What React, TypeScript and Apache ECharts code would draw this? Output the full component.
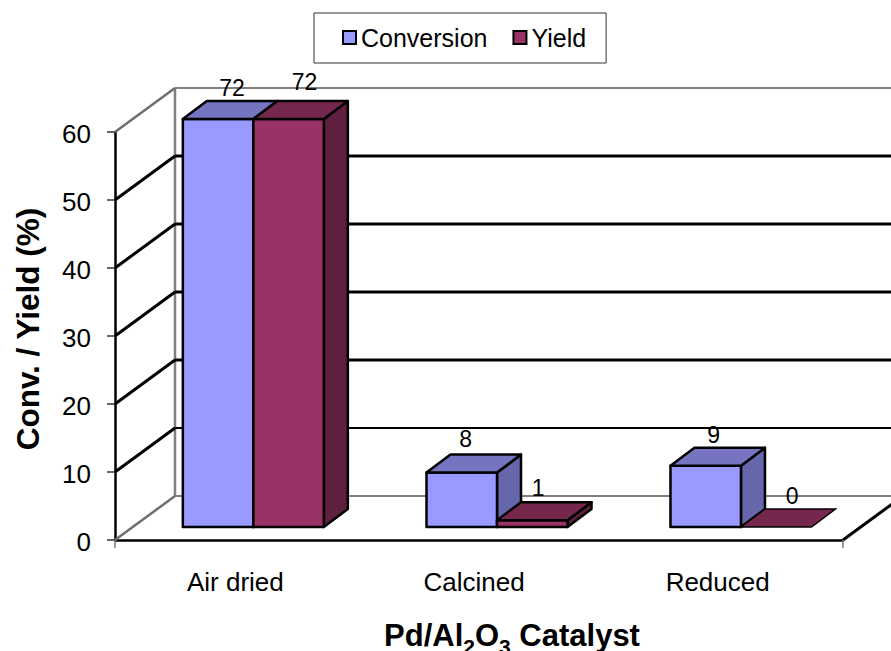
import React, { useEffect, useRef } from "react";
import * as echarts from "echarts";

const categories = ["Air dried", "Calcined", "Reduced"];
const conversion = [72, 8, 9];
const yieldValues = [72, 1, 0];
const yTicks = [0, 10, 20, 30, 40, 50, 60];

const FONT = '"Liberation Sans", Arial, sans-serif';
const Y_MAX = 60;
const WALL = { dx: 60, dy: -44 };
const BAR_SHIFT = { dx: [17, 18, 19.3], dy: -13 };
const BAR_DEPTH = { dx: 24, dy: -18 };
const BAR_W = 70.5;
const LABEL_OFFSET = {
  Conversion: [[14, -31], [4, -34], [8, -31]],
  Yield: [[16, -37], [6, -32], [16, -31]],
};
const LABEL_PAD = [2, 10, 8];

const palette = {
  Conversion: { front: "#9999FF", top: "#7474C0", side: "#6666AA" },
  Yield: { front: "#993366", top: "#75274E", side: "#5F1F3F" },
};

function wallItem(params: any, api: any) {
  const v = api.value(1);
  const band = api.size([1, 0])[0];
  const cx = api.coord([0, v]);
  const x0 = cx[0] - band / 2;
  const y = cx[1];
  const bx = x0 + WALL.dx;
  const by = y + WALL.dy;
  const isEdge = v === 0 || v === Y_MAX;
  const diag = isEdge ? { stroke: "#6e6e6e", lineWidth: 2.5 } : { stroke: "#000", lineWidth: 3 };
  const back =
    v === Y_MAX
      ? { stroke: "#808080", lineWidth: 2 }
      : v === 0
        ? { stroke: "#555", lineWidth: 1.5 }
        : v === 10
          ? { stroke: "#000", lineWidth: 2 }
          : { stroke: "#000", lineWidth: 3 };
  const children: any[] = [
    { type: "line", shape: { x1: bx, y1: by, x2: 1000, y2: by }, style: back },
    { type: "line", shape: { x1: x0, y1: y, x2: bx, y2: by }, style: diag },
  ];
  if (v === 0) {
    const xEnd = x0 + band * categories.length;
    const top = api.coord([0, Y_MAX])[1] + WALL.dy;
    children.push(
      { type: "line", shape: { x1: bx, y1: by, x2: bx, y2: top }, style: { stroke: "#808080", lineWidth: 2.5 } },
      { type: "line", shape: { x1: xEnd, y1: y, x2: xEnd + WALL.dx, y2: by }, style: { stroke: "#000", lineWidth: 3 } },
      { type: "line", shape: { x1: xEnd, y1: y, x2: xEnd, y2: y + 8 }, style: { stroke: "#777", lineWidth: 1.5 } },
      { type: "line", shape: { x1: x0, y1: y, x2: x0, y2: y + 8 }, style: { stroke: "#777", lineWidth: 1.5 } },
    );
  }
  return { type: "group", children };
}

function barRenderer(name: "Conversion" | "Yield", slot: number) {
  return (params: any, api: any) => {
    const i = api.value(0);
    const raw = api.value(1);
    const base = api.coord([i, 0]);
    const topPt = api.coord([i, Math.min(raw, Y_MAX)]);
    const xL = base[0] + BAR_SHIFT.dx[i] + (slot - 1) * BAR_W;
    const xR = xL + BAR_W;
    const yB = base[1] + BAR_SHIFT.dy;
    const yT = topPt[1] + BAR_SHIFT.dy;
    const { dx, dy } = BAR_DEPTH;
    const c = palette[name];
    const edge = { stroke: "#000", lineWidth: 2.5, lineJoin: "round" };
    const off = LABEL_OFFSET[name][i];
    const children: any[] = [];
    if (raw > 0) {
      children.push(
        {
          type: "polygon",
          shape: { points: [[xR, yB], [xR + dx, yB + dy], [xR + dx, yT + dy], [xR, yT]] },
          style: { fill: c.side, ...edge },
        },
        {
          type: "rect",
          shape: { x: xL, y: yT, width: BAR_W, height: yB - yT },
          style: { fill: c.front, ...edge },
        },
      );
    }
    children.push({
      type: "polygon",
      shape: { points: [[xL, yT], [xL + dx, yT + dy], [xR + dx, yT + dy], [xR, yT]] },
      style: raw > 0 ? { fill: c.top, ...edge } : { fill: c.top, stroke: "#000", lineWidth: 1.5 },
    });
    children.push({
      type: "text",
      style: {
        text: String(raw),
        x: (xL + xR) / 2 + off[0],
        y: yT + off[1],
        fill: "#000",
        font: `23px ${FONT}`,
        align: "center",
        verticalAlign: "middle",
      },
      z2: 100,
    });
    return { type: "group", children };
  };
}

export default function App() {
  const ref = useRef<HTMLDivElement>(null);
  useEffect(() => {
    const chart = echarts.init(ref.current!, null, { renderer: "svg" });
    chart.setOption({
      animation: false,
      backgroundColor: "#fff",
      textStyle: { fontFamily: FONT },
      legend: {
        left: 314,
        top: 13,
        padding: [12, 20, 13, 28],
        itemGap: 25,
        itemWidth: 13,
        itemHeight: 13,
        icon: "rect",
        borderColor: "#333",
        borderWidth: 1,
        backgroundColor: "#fff",
        itemStyle: { borderColor: "#000", borderWidth: 2 },
        textStyle: { fontSize: 25, fontFamily: FONT, color: "#000" },
        data: [
          { name: "Conversion", itemStyle: { color: palette.Conversion.front } },
          { name: "Yield", itemStyle: { color: palette.Yield.front } },
        ],
      },
      grid: { left: 115, right: 48, top: 132, bottom: 111, outerBoundsMode: "none", containLabel: false },
      xAxis: {
        type: "category",
        data: categories,
        name: "{t|Pd/Al}{s|2}{t|O}{s|3}{t| Catalyst}",
        nameLocation: "middle",
        nameGap: 74,
        nameTextStyle: {
          padding: [0, 0, 0, 66],
          rich: {
            t: { fontSize: 31, fontWeight: "bold", fontFamily: FONT, color: "#000" },
            s: { fontSize: 21, fontWeight: "bold", fontFamily: FONT, color: "#000", padding: [22, 0, 0, 0] },
          },
        },
        axisLine: { show: true, lineStyle: { color: "#000", width: 2.5 } },
        axisTick: { show: false },
        axisLabel: {
          margin: 29,
          interval: 0,
          fontSize: 26,
          color: "#000",
          fontFamily: FONT,
          formatter: (v: string, i: number) => `{c${i}|${v}}`,
          rich: Object.fromEntries(
            LABEL_PAD.map((p, i) => [
              `c${i}`,
              { fontSize: 26, color: "#000", fontFamily: FONT, padding: [0, p, 0, 0] },
            ]),
          ),
        },
      },
      yAxis: {
        type: "value",
        min: 0,
        max: Y_MAX,
        interval: 10,
        name: "Conv. / Yield (%)",
        nameLocation: "middle",
        nameGap: 71,
        nameTextStyle: {
          fontSize: 31.5,
          fontWeight: "bold",
          color: "#000",
          fontFamily: FONT,
          padding: [0, 0, 0, 14],
        },
        axisLine: { show: true, lineStyle: { color: "#000", width: 2.5 } },
        axisTick: { show: true, length: 8, lineStyle: { color: "#333", width: 1.5 } },
        axisLabel: {
          margin: 24,
          fontSize: 26,
          color: "#000",
          fontFamily: FONT,
          formatter: (v: number) => `{v|${v}}`,
          rich: { v: { fontSize: 26, color: "#000", fontFamily: FONT, padding: [4, 0, 0, 0] } },
        },
        splitLine: { show: false },
      },
      series: [
        {
          type: "custom",
          name: "walls",
          silent: true,
          z: 1,
          renderItem: wallItem,
          encode: { x: 0, y: 1 },
          data: yTicks.map((t) => [0, t]),
        },
        {
          type: "custom",
          name: "Conversion",
          z: 5,
          itemStyle: { color: palette.Conversion.front },
          renderItem: barRenderer("Conversion", 0),
          encode: { x: 0, y: 1 },
          data: conversion.map((v, i) => [i, v]),
        },
        {
          type: "custom",
          name: "Yield",
          z: 6,
          itemStyle: { color: palette.Yield.front },
          renderItem: barRenderer("Yield", 1),
          encode: { x: 0, y: 1 },
          data: yieldValues.map((v, i) => [i, v]),
        },
      ],
    });
    return () => chart.dispose();
  }, []);
  return <div ref={ref} style={{ position: "absolute", left: 0, top: 0, width: 891, height: 651 }} />;
}
